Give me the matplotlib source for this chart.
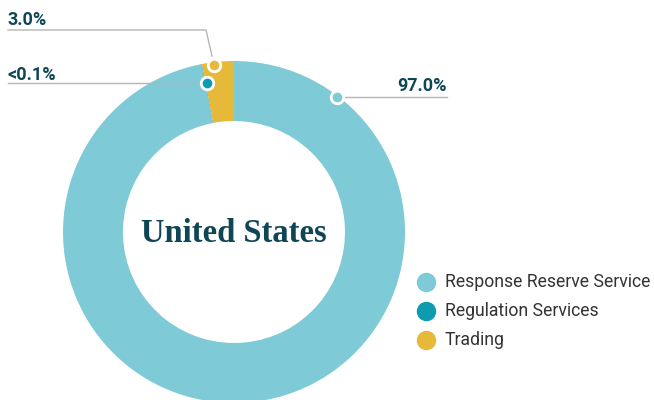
import matplotlib
matplotlib.use("Agg")
import matplotlib.pyplot as plt

categories = ["Response Reserve Service", "Regulation Services", "Trading"]
values = [97.0, 0.05, 3.0]
value_labels = ["97.0%", "<0.1%", "3.0%"]
colors = ["#7ecad6", "#0d9bb0", "#e6b93a"]
title = "United States"
text_color = "#0f4656"

W, H = 654, 400
fig = plt.figure(figsize=(W / 100, H / 100), dpi=100)

cx, cy, R = 234, 232, 171
ax = fig.add_axes([(cx - R) / W, (H - cy - R) / H, 2 * R / W, 2 * R / H])

ax.pie(values, colors=colors, startangle=90, counterclock=False, radius=1,
       wedgeprops=dict(width=60 / 171, linewidth=0))
ax.set_xlim(-1, 1)
ax.set_ylim(-1, 1)
ax.set_aspect("equal")
ax.axis("off")

ax.text(0, -0.01, title, ha="center", va="center", fontsize=23.5, fontweight="bold",
        family="Liberation Serif", color=text_color)

# overlay axes in pixel coordinates for annotations
ov = fig.add_axes([0, 0, 1, 1])
ov.set_xlim(0, W)
ov.set_ylim(H, 0)
ov.axis("off")

line_c = "#b5b5b5"
fs = 13
# 97.0%
ov.plot([345, 447], [97, 97], color=line_c, lw=1)
ov.plot([337], [97], "o", ms=9, mfc=colors[0], mec="white", mew=2)
ov.text(447, 91, value_labels[0], ha="right", va="baseline", fontsize=fs,
        fontweight="semibold", family="Roboto", color=text_color)
# <0.1%
ov.plot([8, 200], [83, 83], color=line_c, lw=1)
ov.plot([207], [83], "o", ms=9, mfc=colors[1], mec="white", mew=2)
ov.text(8, 80, value_labels[1], ha="left", va="baseline", fontsize=fs,
        fontweight="semibold", family="Roboto", color=text_color)
# 3.0%
ov.plot([8, 206, 212], [30, 30, 56], color=line_c, lw=1)
ov.plot([214], [65], "o", ms=9, mfc=colors[2], mec="white", mew=2)
ov.text(8, 25, value_labels[2], ha="left", va="baseline", fontsize=fs,
        fontweight="semibold", family="Roboto", color=text_color)

# legend
for i, (cat, col) in enumerate(zip(categories, colors)):
    y = 282 + 29 * i
    ov.plot([426], [y], "o", ms=13, mfc=col, mec=col)
    ov.text(445, y, cat, ha="left", va="center", fontsize=12.7,
            family="Roboto", color="#333333")

fig.savefig("out.png", dpi=100)
